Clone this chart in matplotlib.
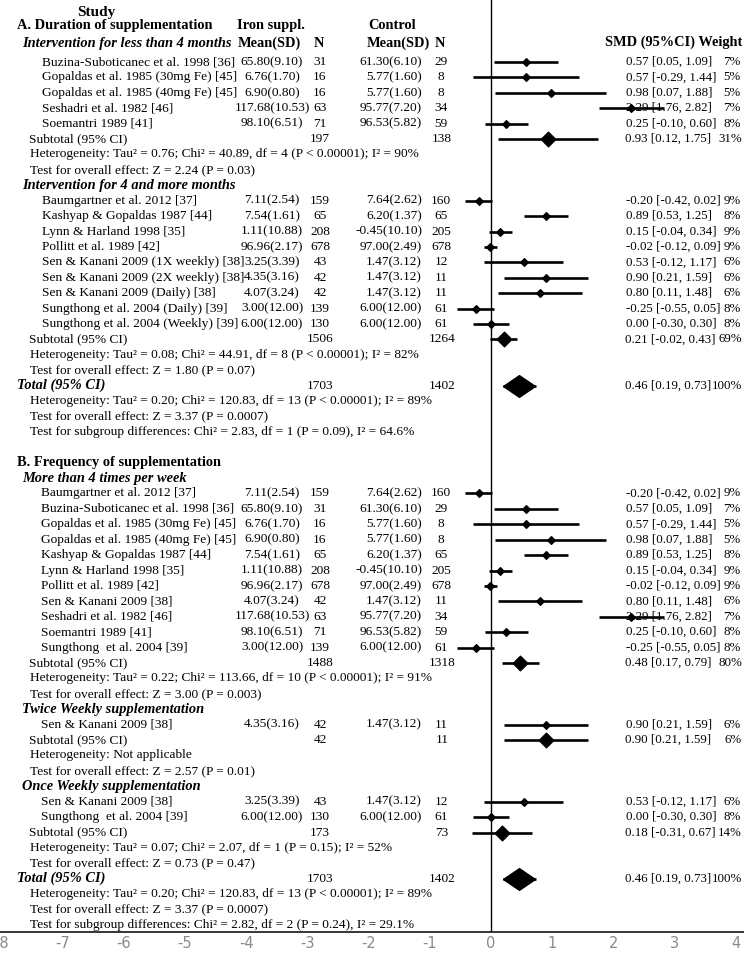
import matplotlib
matplotlib.use("Agg")
import matplotlib.pyplot as plt
from matplotlib.transforms import blended_transform_factory

plt.rcParams["font.family"] = ["Liberation Serif", "DejaVu Serif"]

# ---------- data ----------
study_labels = [
    "Buzina-Suboticanec et al. 1998 [36]",
    "Gopaldas et al. 1985 (30mg Fe) [45]",
    "Gopaldas et al. 1985 (40mg Fe) [45]",
    "Seshadri et al. 1982 [46]",
    "Soemantri 1989 [41]",
    "Baumgartner et al. 2012 [37]",
    "Kashyap & Gopaldas 1987 [44]",
    "Lynn & Harland 1998 [35]",
    "Pollitt et al. 1989 [42]",
    "Sen & Kanani 2009 (1X weekly) [38]",
    "Sen & Kanani 2009 (2X weekly) [38]",
    "Sen & Kanani 2009 (Daily) [38]",
    "Sungthong et al. 2004 (Daily) [39]",
    "Sungthong et al. 2004 (Weekly) [39]",
    "Baumgartner et al. 2012 [37]",
    "Buzina-Suboticanec et al. 1998 [36]",
    "Gopaldas et al. 1985 (30mg Fe) [45]",
    "Gopaldas et al. 1985 (40mg Fe) [45]",
    "Kashyap & Gopaldas 1987 [44]",
    "Lynn & Harland 1998 [35]",
    "Pollitt et al. 1989 [42]",
    "Sen & Kanani 2009 [38]",
    "Seshadri et al. 1982 [46]",
    "Soemantri 1989 [41]",
    "Sungthong  et al. 2004 [39]",
    "Sen & Kanani 2009 [38]",
    "Sen & Kanani 2009 [38]",
    "Sungthong  et al. 2004 [39]",
]
iron_msd = [
    "65.80(9.10)", "6.76(1.70)", "6.90(0.80)", "117.68(10.53)", "98.10(6.51)",
    "7.11(2.54)", "7.54(1.61)", "1.11(10.88)", "96.96(2.17)", "3.25(3.39)",
    "4.35(3.16)", "4.07(3.24)", "3.00(12.00)", "6.00(12.00)",
    "7.11(2.54)", "65.80(9.10)", "6.76(1.70)", "6.90(0.80)", "7.54(1.61)",
    "1.11(10.88)", "96.96(2.17)", "4.07(3.24)", "117.68(10.53)", "98.10(6.51)",
    "3.00(12.00)",
    "4.35(3.16)",
    "3.25(3.39)", "6.00(12.00)",
]
iron_n = [31, 16, 16, 63, 71,
          159, 65, 208, 678, 43, 42, 42, 139, 130,
          159, 31, 16, 16, 65, 208, 678, 42, 63, 71, 139,
          42,
          43, 130]
ctrl_msd = [
    "61.30(6.10)", "5.77(1.60)", "5.77(1.60)", "95.77(7.20)", "96.53(5.82)",
    "7.64(2.62)", "6.20(1.37)", "-0.45(10.10)", "97.00(2.49)", "1.47(3.12)",
    "1.47(3.12)", "1.47(3.12)", "6.00(12.00)", "6.00(12.00)",
    "7.64(2.62)", "61.30(6.10)", "5.77(1.60)", "5.77(1.60)", "6.20(1.37)",
    "-0.45(10.10)", "97.00(2.49)", "1.47(3.12)", "95.77(7.20)", "96.53(5.82)",
    "6.00(12.00)",
    "1.47(3.12)",
    "1.47(3.12)", "6.00(12.00)",
]
ctrl_n = [29, 8, 8, 34, 59,
          160, 65, 205, 678, 12, 11, 11, 61, 61,
          160, 29, 8, 8, 65, 205, 678, 11, 34, 59, 61,
          11,
          12, 61]
smd = [0.57, 0.57, 0.98, 2.29, 0.25,
       -0.20, 0.89, 0.15, -0.02, 0.53, 0.90, 0.80, -0.25, 0.00,
       -0.20, 0.57, 0.57, 0.98, 0.89, 0.15, -0.02, 0.80, 2.29, 0.25, -0.25,
       0.90,
       0.53, 0.00]
ci_lo = [0.05, -0.29, 0.07, 1.76, -0.10,
         -0.42, 0.53, -0.04, -0.12, -0.12, 0.21, 0.11, -0.55, -0.30,
         -0.42, 0.05, -0.29, 0.07, 0.53, -0.04, -0.12, 0.11, 1.76, -0.10, -0.55,
         0.21,
         -0.12, -0.30]
ci_hi = [1.09, 1.44, 1.88, 2.82, 0.60,
         0.02, 1.25, 0.34, 0.09, 1.17, 1.59, 1.48, 0.05, 0.30,
         0.02, 1.09, 1.44, 1.88, 1.25, 0.34, 0.09, 1.48, 2.82, 0.60, 0.05,
         1.59,
         1.17, 0.30]
weight = ["7%", "5%", "5%", "7%", "8%",
          "9%", "8%", "9%", "9%", "6%", "6%", "6%", "8%", "8%",
          "9%", "7%", "5%", "5%", "8%", "9%", "9%", "6%", "7%", "8%", "8%",
          "6%",
          "6%", "8%"]

# pooled rows: A <4 mo, A >=4 mo, A total, B >4/wk, B twice, B once, B total
pooled_labels = ["Subtotal (95% CI)", "Subtotal (95% CI)", "Total (95% CI)",
                 "Subtotal (95% CI)", "Subtotal (95% CI)", "Subtotal (95% CI)",
                 "Total (95% CI)"]
pooled_iron_n = [197, 1506, 1703, 1488, 42, 173, 1703]
pooled_ctrl_n = [138, 1264, 1402, 1318, 11, 73, 1402]
pooled_smd = [0.93, 0.21, 0.46, 0.48, 0.90, 0.18, 0.46]
pooled_lo = [0.12, -0.02, 0.19, 0.17, 0.21, -0.31, 0.19]
pooled_hi = [1.75, 0.43, 0.73, 0.79, 1.59, 0.67, 0.73]
pooled_weight = ["31%", "69%", "100%", "80%", "6%", "14%", "100%"]
pooled_is_total = [False, False, True, False, False, False, True]

x_ticks = [-8, -7, -6, -5, -4, -3, -2, -1, 0, 1, 2, 3, 4]

# row order (first study row = row 0)
layout = [
    ("studies", 0, 5), ("pooled", 0),
    ("note", "Heterogeneity: Tau² = 0.76; Chi² = 40.89, df = 4 (P < 0.00001); I² = 90%"),
    ("note", "Test for overall effect: Z = 2.24 (P = 0.03)"),
    ("group", "Intervention for 4 and more months"),
    ("studies", 5, 14), ("pooled", 1),
    ("note", "Heterogeneity: Tau² = 0.08; Chi² = 44.91, df = 8 (P < 0.00001); I² = 82%"),
    ("note", "Test for overall effect: Z = 1.80 (P = 0.07)"),
    ("pooled", 2),
    ("note", "Heterogeneity: Tau² = 0.20; Chi² = 120.83, df = 13 (P < 0.00001); I² = 89%"),
    ("note", "Test for overall effect: Z = 3.37 (P = 0.0007)"),
    ("note", "Test for subgroup differences: Chi² = 2.83, df = 1 (P = 0.09), I² = 64.6%"),
    ("blank", ""),
    ("section", "B. Frequency of supplementation"),
    ("group", "More than 4 times per week"),
    ("studies", 14, 25), ("pooled", 3),
    ("note", "Heterogeneity: Tau² = 0.22; Chi² = 113.66, df = 10 (P < 0.00001); I² = 91%"),
    ("note", "Test for overall effect: Z = 3.00 (P = 0.003)"),
    ("group", "Twice Weekly supplementation"),
    ("studies", 25, 26), ("pooled", 4),
    ("note", "Heterogeneity: Not applicable"),
    ("note", "Test for overall effect: Z = 2.57 (P = 0.01)"),
    ("group", "Once Weekly supplementation"),
    ("studies", 26, 28), ("pooled", 5),
    ("note", "Heterogeneity: Tau² = 0.07; Chi² = 2.07, df = 1 (P = 0.15); I² = 52%"),
    ("note", "Test for overall effect: Z = 0.73 (P = 0.47)"),
    ("pooled", 6),
    ("note", "Heterogeneity: Tau² = 0.20; Chi² = 120.83, df = 13 (P < 0.00001); I² = 89%"),
    ("note", "Test for overall effect: Z = 3.37 (P = 0.0007)"),
    ("note", "Test for subgroup differences: Chi² = 2.82, df = 2 (P = 0.24), I² = 29.1%"),
]

# ---------- figure ----------
W, H = 744, 960
fig = plt.figure(figsize=(W / 100, H / 100), dpi=100)
AX_BOTTOM_PX = 932
ax = fig.add_axes([0, (H - AX_BOTTOM_PX) / H, 1, AX_BOTTOM_PX / H])

ROW0_PX, ROW_PX = 62, 15.41
ax.set_xlim(-8.02, 4.13)
ax.set_ylim((AX_BOTTOM_PX - ROW0_PX) / ROW_PX, -ROW0_PX / ROW_PX)

tr = blended_transform_factory(ax.transAxes, ax.transData)
FS = 9.6
FS_BOLD = 10.4
FS_CI = 9.3


def px(x):
    return x / W


def put(x, y, s, ha="left", weight="normal", style="normal", size=None):
    if size is None:
        size = FS_BOLD if weight == "bold" else FS
    ax.text(px(x), y, s, transform=tr, ha=ha, va="center", fontsize=size,
            fontweight=weight, fontstyle=style, color="black", zorder=2)


diamond_sq = [(-1, 0), (0, 1), (1, 0), (0, -1), (-1, 0)]
diamond_wide = [(-1, 0), (0, 0.68), (1, 0), (0, -0.68), (-1, 0)]


def hrow(p):
    return (p - ROW0_PX) / ROW_PX


# ---------- header ----------
put(77, hrow(12), "Study", weight="bold", size=11)
put(17, hrow(25.5), "A. Duration of supplementation", weight="bold")
put(237, hrow(25.5), "Iron suppl.", weight="bold")
put(368, hrow(25.5), "Control", weight="bold")
put(22, hrow(43), "Intervention for less than 4 months", weight="bold", style="italic")
put(238, hrow(43), "Mean(SD)", weight="bold")
put(319, hrow(43), "N", ha="center", weight="bold")
put(367, hrow(43), "Mean(SD)", weight="bold")
put(440, hrow(43), "N", ha="center", weight="bold")
put(742, hrow(42), "SMD (95%CI) Weight", ha="right", weight="bold")

# ---------- rows ----------
row = 0
section_b = False
for item in layout:
    kind = item[0]
    if kind == "studies":
        for i in range(item[1], item[2]):
            put(41 if section_b else 42, row, study_labels[i])
            put(272, row, iron_msd[i], ha="center")
            put(320, row, str(iron_n[i]), ha="center")
            put(422, row, ctrl_msd[i], ha="right")
            put(441, row, str(ctrl_n[i]), ha="center")
            put(626, row, f"{smd[i]:.2f} [{ci_lo[i]:.2f}, {ci_hi[i]:.2f}]", size=FS_CI)
            put(741, row, weight[i], ha="right", size=FS_CI)
            ax.plot([ci_lo[i], ci_hi[i]], [row, row], color="black", lw=1.9,
                    solid_capstyle="butt", zorder=3)
            ax.plot(smd[i], row, marker=diamond_sq, ms=5.5, color="black", zorder=4)
            row += 1
        continue
    if kind == "pooled":
        j = item[1]
        if pooled_is_total[j]:
            put(17, row, pooled_labels[j], weight="bold", style="italic")
        else:
            put(29, row, pooled_labels[j])
        put(320, row, str(pooled_iron_n[j]), ha="center")
        put(442, row, str(pooled_ctrl_n[j]), ha="center")
        put(625, row, f"{pooled_smd[j]:.2f} [{pooled_lo[j]:.2f}, {pooled_hi[j]:.2f}]", size=FS_CI)
        put(742, row, pooled_weight[j], ha="right", size=FS_CI)
        ax.plot([pooled_lo[j], pooled_hi[j]], [row, row], color="black", lw=1.9,
                solid_capstyle="butt", zorder=3)
        if pooled_is_total[j]:
            ax.plot(pooled_smd[j], row, marker=diamond_wide, ms=23, color="black", zorder=4)
        else:
            ax.plot(pooled_smd[j], row, marker=diamond_sq, ms=10.5, color="black", zorder=4)
    elif kind == "note":
        put(30, row, item[1])
    elif kind == "group":
        put(22, row, item[1], weight="bold", style="italic")
    elif kind == "section":
        section_b = True
        put(17, row, item[1], weight="bold")
    row += 1

# ---------- axes ----------
ax.axvline(0, color="black", lw=1.0, zorder=1)
for s in ("top", "left", "right"):
    ax.spines[s].set_visible(False)
ax.spines["bottom"].set_linewidth(1.1)
ax.set_yticks([])
ax.set_xticks(x_ticks)
ax.set_xticklabels([str(t) for t in x_ticks])
ax.tick_params(axis="x", length=0, pad=3, labelsize=10.5, labelcolor="#8a8a8a")
for t in ax.get_xticklabels():
    t.set_fontfamily(["Liberation Sans Narrow", "DejaVu Sans"])
ax.patch.set_alpha(0)

fig.savefig("out.png", dpi=100, facecolor="white")
